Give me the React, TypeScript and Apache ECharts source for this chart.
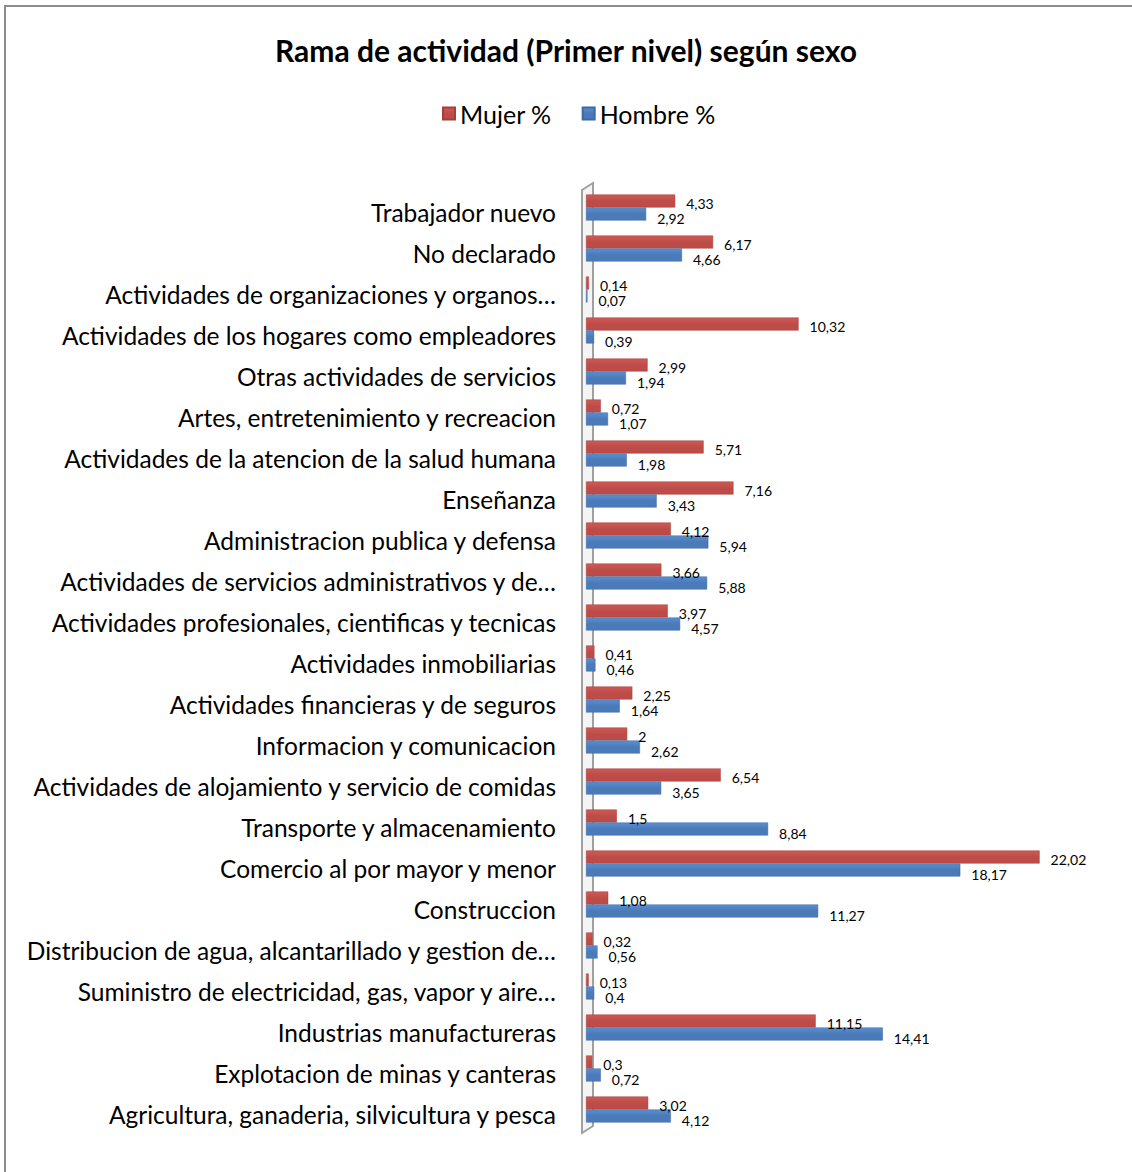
import React, { useEffect, useRef } from "react";
import * as echarts from "echarts";

const categories = [
  "Agricultura, ganaderia, silvicultura y pesca",
  "Explotacion de minas y canteras",
  "Industrias manufactureras",
  "Suministro de electricidad, gas, vapor y aire…",
  "Distribucion de agua, alcantarillado y gestion de…",
  "Construccion",
  "Comercio al por mayor y menor",
  "Transporte y almacenamiento",
  "Actividades de alojamiento y servicio de comidas",
  "Informacion y comunicacion",
  "Actividades financieras y de seguros",
  "Actividades inmobiliarias",
  "Actividades profesionales, cientificas y tecnicas",
  "Actividades de servicios administrativos y de…",
  "Administracion publica y defensa",
  "Enseñanza",
  "Actividades de la atencion de la salud humana",
  "Artes, entretenimiento y recreacion",
  "Otras actividades de servicios",
  "Actividades de los hogares como empleadores",
  "Actividades de organizaciones y organos…",
  "No declarado",
  "Trabajador nuevo",
];

const mujer = [3.02, 0.3, 11.15, 0.13, 0.32, 1.08, 22.02, 1.5, 6.54, 2, 2.25, 0.41, 3.97, 3.66, 4.12, 7.16, 5.71, 0.72, 2.99, 10.32, 0.14, 6.17, 4.33];
const hombre = [4.12, 0.72, 14.41, 0.4, 0.56, 11.27, 18.17, 8.84, 3.65, 2.62, 1.64, 0.46, 4.57, 5.88, 5.94, 3.43, 1.98, 1.07, 1.94, 0.39, 0.07, 4.66, 2.92];

const seriesNames = ["Mujer %", "Hombre %"];
const title = "Rama de actividad (Primer nivel) según sexo";

const FONT = "Lato, 'Liberation Sans', sans-serif";

export default function App() {
  const ref = useRef<HTMLDivElement>(null);
  useEffect(() => {
    if (!ref.current) return;
    const chart = echarts.init(ref.current, null, { renderer: "svg" });
    const fmt = (p: any) => String(p.value).replace(".", ",");
    const labelStyle = {
      show: true,
      position: "right",
      distance: 11,
      fontSize: 14,
      color: "#000",
      fontFamily: FONT,
      formatter: fmt,
    };
    const barGrad = (light: string, dark: string) =>
      new echarts.graphic.LinearGradient(0, 0, 0, 1, [
        { offset: 0, color: light },
        { offset: 0.5, color: dark },
        { offset: 1, color: dark },
      ]);
    chart.setOption({
      animation: false,
      backgroundColor: "#fff",
      textStyle: { fontFamily: FONT },
      title: {
        text: title,
        left: "center",
        top: 30,
        textStyle: { fontSize: 30, fontWeight: "bold", color: "#000", fontFamily: FONT },
      },
      legend: {
        data: seriesNames,
        top: 96,
        left: 437,
        itemWidth: 12,
        itemHeight: 12,
        itemGap: 30,
        icon: "rect",
        textStyle: { fontSize: 25, color: "#000", fontFamily: FONT },
      },
      grid: [
        { left: 586, right: 31, top: 187, bottom: 42, containLabel: false },
        { left: 586, right: 31, top: 192, bottom: 37, containLabel: false },
      ],
      xAxis: [
        { type: "value", gridIndex: 0, min: 0, max: 25, show: false, splitLine: { show: false } },
        { type: "value", gridIndex: 1, min: 0, max: 25, show: false, splitLine: { show: false } },
      ],
      yAxis: [
        {
          type: "category",
          gridIndex: 0,
          data: categories,
          axisLine: { show: false },
          axisTick: { show: false },
          axisLabel: { show: false },
        },
        {
          type: "category",
          gridIndex: 1,
          data: categories,
          axisLine: { show: false },
          axisTick: { show: false },
          axisLabel: { fontSize: 24.5, color: "#000", margin: 30, fontFamily: FONT },
        },
      ],
      graphic: [
        {
          type: "rect",
          z: 0,
          shape: { x: 5, y: 6, width: 1200, height: 1200 },
          style: { fill: "none", stroke: "#8c8c8c", lineWidth: 2 },
        },
        {
          type: "polygon",
          z: 0,
          shape: { points: [[582, 1133], [582, 190], [593, 183], [593, 1126]] },
          style: { fill: "#f4f4f4", stroke: "#a0a0a0", lineWidth: 2 },
        },
      ],
      series: [
        {
          name: "Mujer %",
          type: "bar",
          xAxisIndex: 0,
          yAxisIndex: 0,
          data: mujer,
          barWidth: 13,
          barGap: "0%",
          z: 3,
          itemStyle: { color: barGrad("#d05a56", "#bd4c48"), borderColor: "#a53e3a", borderWidth: 0.5 },
          label: { ...labelStyle, offset: [0, 2] },
        },
        {
          name: "Hombre %",
          type: "bar",
          xAxisIndex: 0,
          yAxisIndex: 0,
          data: hombre,
          barWidth: 13,
          barGap: "0%",
          z: 3,
          itemStyle: { color: barGrad("#5b8fd0", "#4a7ab8"), borderColor: "#3d6aa3", borderWidth: 0.5 },
          label: { ...labelStyle, offset: [0, 4] },
        },
      ],
    });
    return () => chart.dispose();
  }, []);
  return (
    <div
      ref={ref}
      style={{ position: "fixed", left: 0, top: 0, width: 1132, height: 1172, background: "#fff" }}
    />
  );
}
